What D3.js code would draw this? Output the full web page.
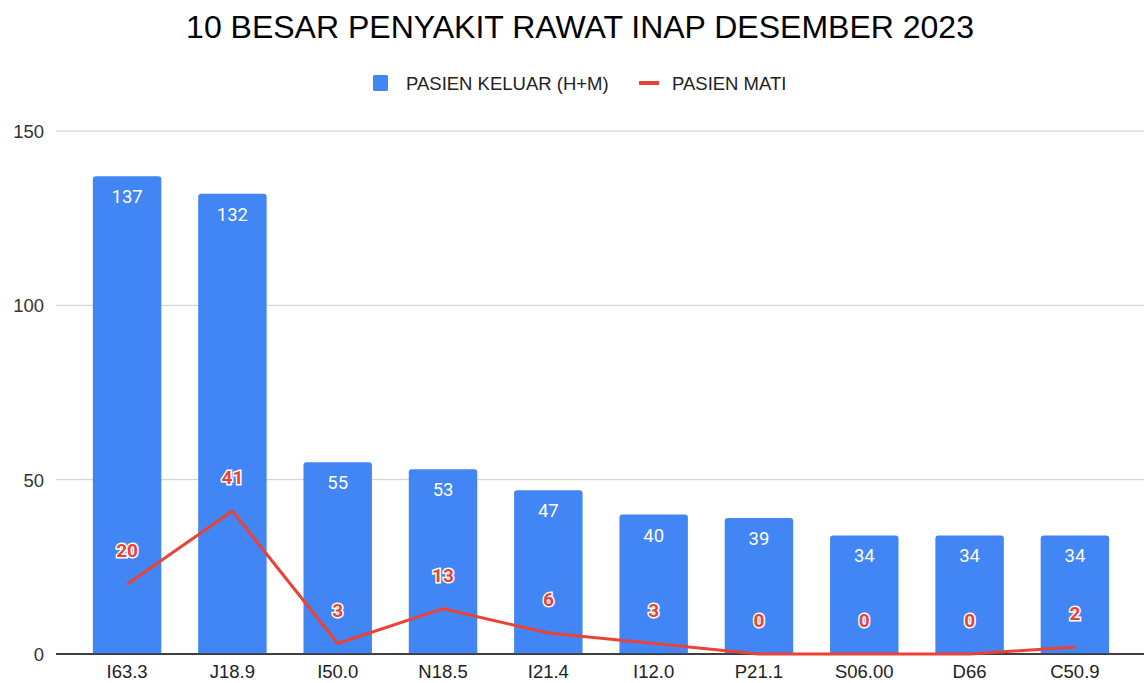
<!DOCTYPE html>
<html>
<head>
<meta charset="utf-8">
<script src="https://cdn.jsdelivr.net/npm/d3@7"></script>
<style>
  body { margin: 0; background: #fff; }
  text { font-family: "Liberation Sans", Arial, sans-serif; }
  .datalab { font-family: Roboto, Arial, sans-serif; }
</style>
</head>
<body>
<svg id="chart" width="1144" height="683"></svg>
<script>
const categories = ["I63.3", "J18.9", "I50.0", "N18.5", "I21.4", "I12.0", "P21.1", "S06.00", "D66", "C50.9"]
const keluar = [137, 132, 55, 53, 47, 40, 39, 34, 34, 34]
const mati = [20, 41, 3, 13, 6, 3, 0, 0, 0, 2]
const yTicks = [0, 50, 100, 150]
const seriesNames = ["PASIEN KELUAR (H+M)", "PASIEN MATI"]

const plotLeft = 56, plotRight = 1144, plotTop = 131, plotBottom = 654
const blue = "#4285f4", red = "#ea4335"

const svg = d3.select("#chart")

const x = d3.scaleBand()
  .domain(categories)
  .range([plotLeft, 1146])
  .padding(0.35)

const y = d3.scaleLinear()
  .domain([0, 150])
  .range([plotBottom, plotTop])

// title
svg.append("text")
  .attr("x", 580)
  .attr("y", 38)
  .attr("text-anchor", "middle")
  .style("font-size", "32px")
  .style("fill", "#000")
  .text("10 BESAR PENYAKIT RAWAT INAP DESEMBER 2023")

// legend
const legend = svg.append("g")
legend.append("rect")
  .attr("x", 373).attr("y", 75).attr("width", 15).attr("height", 16)
  .attr("rx", 1.5).attr("fill", blue)
legend.append("text")
  .attr("x", 406).attr("y", 90)
  .style("font-size", "18.5px").style("fill", "#222")
  .text(seriesNames[0])
legend.append("line")
  .attr("x1", 639).attr("x2", 659).attr("y1", 83).attr("y2", 83)
  .attr("stroke", red).attr("stroke-width", 4)
legend.append("text")
  .attr("x", 672).attr("y", 90)
  .style("font-size", "18.5px").style("fill", "#222")
  .text(seriesNames[1])

// gridlines + y labels
svg.selectAll(".grid")
  .data(yTicks)
  .join("line")
  .attr("x1", plotLeft).attr("x2", plotRight)
  .attr("y1", d => y(d)).attr("y2", d => y(d))
  .attr("stroke", d => d === 0 ? "#333" : "#ccc")
  .attr("stroke-width", d => d === 0 ? 1.5 : 1)

svg.selectAll(".ylab")
  .data(yTicks)
  .join("text")
  .attr("x", 44)
  .attr("y", d => y(d) + 7)
  .attr("text-anchor", "end")
  .style("font-size", "18.5px").style("fill", "#333")
  .text(d => d)

// bars with rounded top corners
const r = 3
svg.selectAll(".bar")
  .data(keluar)
  .join("path")
  .attr("fill", blue)
  .attr("d", (d, i) => {
    const x0 = x(categories[i]), w = x.bandwidth()
    const yt = y(d), yb = y(0)
    return `M${x0},${yb}V${yt + r}Q${x0},${yt} ${x0 + r},${yt}H${x0 + w - r}Q${x0 + w},${yt} ${x0 + w},${yt + r}V${yb}Z`
  })

// redraw baseline over bars
svg.append("line")
  .attr("x1", plotLeft).attr("x2", plotRight)
  .attr("y1", y(0)).attr("y2", y(0))
  .attr("stroke", "#333").attr("stroke-width", 1.5)

svg.selectAll(".barlab")
  .data(keluar)
  .join("text")
  .attr("class", "datalab")
  .attr("x", (d, i) => x(categories[i]) + x.bandwidth() / 2)
  .attr("y", d => y(d) + 27)
  .attr("text-anchor", "middle")
  .style("font-size", "18.5px").style("fill", "#fff")
  .text(d => d)

// line
const line = d3.line()
  .x((d, i) => x(categories[i]) + x.bandwidth() / 2)
  .y(d => y(d))

svg.append("path")
  .datum(mati)
  .attr("d", line)
  .attr("fill", "none")
  .attr("stroke", red)
  .attr("stroke-width", 3)
  .attr("stroke-linejoin", "round")

svg.selectAll(".linelab")
  .data(mati)
  .join("text")
  .attr("class", "datalab")
  .attr("x", (d, i) => x(categories[i]) + x.bandwidth() / 2)
  .attr("y", d => y(d) - 27)
  .attr("text-anchor", "middle")
  .style("font-size", "19px").style("font-weight", "bold")
  .style("fill", red)
  .style("stroke", "#fff").style("stroke-width", "3px")
  .style("paint-order", "stroke")
  .text(d => d)

// x labels
svg.selectAll(".xlab")
  .data(categories)
  .join("text")
  .attr("x", d => x(d) + x.bandwidth() / 2)
  .attr("y", 678)
  .attr("text-anchor", "middle")
  .style("font-size", "18.5px").style("fill", "#222")
  .text(d => d)
</script>
</body>
</html>
